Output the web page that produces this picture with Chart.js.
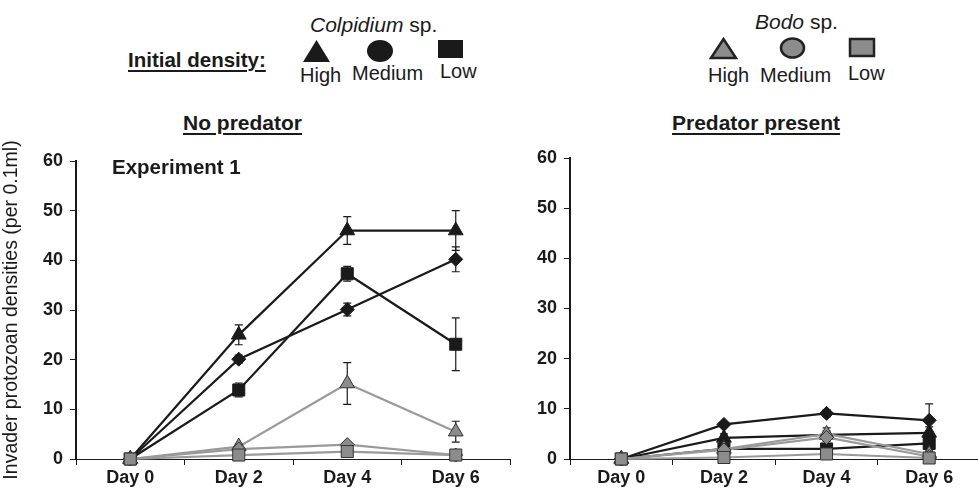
<!DOCTYPE html>
<html>
<head>
<meta charset="utf-8">
<script src="https://cdn.jsdelivr.net/npm/chart.js@4"></script>
<style>
  body { margin: 0; width: 978px; height: 490px; overflow: hidden; background: #fff; position: relative;
         font-family: "Liberation Sans", Arial, sans-serif; color: #1a1a1a; }
  .t { position: absolute; white-space: nowrap; line-height: 1; }
  .b { font-weight: bold; }
  .u { text-decoration: underline; text-decoration-thickness: 2px; text-underline-offset: 3px; }
  #left { position: absolute; left: 0; top: 130px; }
  #right { position: absolute; left: 500px; top: 130px; }
  svg { position: absolute; left: 0; top: 0; }
</style>
</head>
<body>
<svg width="978" height="100">
  <polygon points="303,62 316.5,40 330,62" fill="#1a1a1a"/>
  <ellipse cx="380" cy="51" rx="13" ry="11" fill="#1a1a1a"/>
  <rect x="438" y="40" width="25" height="18" fill="#1a1a1a"/>
  <polygon points="711,58 723.5,39 736,58" fill="#8c8c8c" stroke="#222" stroke-width="2.5"/>
  <ellipse cx="792.5" cy="48" rx="11.5" ry="9.5" fill="#8c8c8c" stroke="#222" stroke-width="2.5"/>
  <rect x="850" y="39" width="24" height="17" fill="#8c8c8c" stroke="#222" stroke-width="2.5"/>
</svg>
<div class="t" style="left:310px;top:14px;font-size:21px"><i>Colpidium</i> sp.</div>
<div class="t b u" style="left:128px;top:50px;font-size:20.5px">Initial density:</div>
<div class="t" style="left:300px;top:65px;font-size:20px">High</div>
<div class="t" style="left:352px;top:63px;font-size:20px">Medium</div>
<div class="t" style="left:440px;top:61px;font-size:20px">Low</div>
<div class="t" style="left:755px;top:11px;font-size:21px"><i>Bodo</i> sp.</div>
<div class="t" style="left:708px;top:65px;font-size:20px">High</div>
<div class="t" style="left:760px;top:65px;font-size:20px">Medium</div>
<div class="t" style="left:848px;top:63px;font-size:20px">Low</div>
<div class="t b u" style="left:183px;top:112px;font-size:21px">No predator</div>
<div class="t b u" style="left:672px;top:112px;font-size:21px">Predator present</div>

<canvas id="left" width="520" height="360"></canvas>
<canvas id="right" width="490" height="360"></canvas>
<div class="t b" style="left:112px;top:157px;font-size:20.5px">Experiment 1</div>

<script>
const days = ['Day 0', 'Day 2', 'Day 4', 'Day 6'];

// No predator
const npColHigh = [0, 25, 46, 46];
const npColHighErr = [0.5, 2, 2.8, 4];
const npColMed = [0, 20.1, 30.1, 40.2];
const npColMedErr = [0, 0.8, 1.3, 2.5];
const npColLow = [0, 13.9, 37.3, 23.1];
const npColLowErr = [0, 1.4, 1.5, 5.3];
const npBodHigh = [0, 2.5, 15.2, 5.5];
const npBodHighErr = [0, 0.5, 4.2, 2.1];
const npBodMed = [0, 2.0, 2.9, 0.8];
const npBodMedErr = [0, 0.4, 0.5, 0.3];
const npBodLow = [0, 0.8, 1.5, 0.8];
const npBodLowErr = [0.6, 0.3, 0.4, 0.3];

// Predator present
const ppColHigh = [0, 4.2, 4.8, 5.2];
const ppColHighErr = [0.5, 0.8, 0.8, 1.2];
const ppColMed = [0, 6.9, 9.1, 7.7];
const ppColMedErr = [0, 0.5, 0.7, 3.3];
const ppColLow = [0, 2.0, 2.0, 3.1];
const ppColLowErr = [0, 0.5, 0.5, 0.8];
const ppBodHigh = [0, 2.0, 5.0, 1.0];
const ppBodHighErr = [0, 0.4, 1.2, 0.6];
const ppBodMed = [0, 1.8, 4.3, 0.5];
const ppBodMedErr = [0, 0.3, 0.8, 0.3];
const ppBodLow = [0, 0.3, 1.0, 0.2];
const ppBodLowErr = [0.4, 0.2, 0.3, 0.2];

const black = '#1a1a1a';
const grayLine = '#9a9a9a';
const grayFill = '#8c8c8c';

// draws vertical error bars with caps behind the markers
const errorBars = {
  id: 'errorBars',
  beforeDatasetsDraw(chart) {
    const ctx = chart.ctx;
    const y = chart.scales.y;
    ctx.save();
    ctx.strokeStyle = black;
    ctx.lineWidth = 1.2;
    chart.data.datasets.forEach((ds, i) => {
      const meta = chart.getDatasetMeta(i);
      meta.data.forEach((pt, j) => {
        const e = ds.errors[j];
        if (!e) return;
        const top = y.getPixelForValue(ds.data[j] + e);
        const bot = y.getPixelForValue(ds.data[j] - e);
        ctx.beginPath();
        ctx.moveTo(pt.x, top); ctx.lineTo(pt.x, bot);
        ctx.moveTo(pt.x - 4, top); ctx.lineTo(pt.x + 4, top);
        ctx.moveTo(pt.x - 4, bot); ctx.lineTo(pt.x + 4, bot);
        ctx.stroke();
      });
    });
    ctx.restore();
  }
};

function series(data, errors, dark, style, r) {
  return {
    data: data,
    errors: errors,
    borderColor: dark ? black : grayLine,
    borderWidth: 2.2,
    pointStyle: style,
    pointRadius: r,
    pointBackgroundColor: dark ? black : grayFill,
    pointBorderColor: dark ? black : '#333',
    pointBorderWidth: 1,
    tension: 0,
    clip: false
  };
}

function makeChart(id, sets, yWidth, yTitle, pad) {
  const tickFont = { family: 'Liberation Sans', size: 18, weight: 'bold' };
  return new Chart(document.getElementById(id), {
    type: 'line',
    data: { labels: days, datasets: sets },
    options: {
      responsive: false,
      animation: false,
      layout: { padding: pad },
      plugins: { legend: { display: false }, tooltip: { enabled: false } },
      scales: {
        x: {
          offset: true,
          grid: { offset: true, drawOnChartArea: false, tickLength: 6, color: black, lineWidth: 1 },
          border: { color: black, width: 1 },
          ticks: { color: black, font: tickFont, padding: 2, maxRotation: 0 },
          afterFit: s => { s.height = 31; }
        },
        y: {
          min: 0, max: 60,
          grid: { drawOnChartArea: false, tickLength: 6, color: black, lineWidth: 1 },
          border: { color: black, width: 2 },
          ticks: { stepSize: 10, color: black, font: tickFont, padding: 7 },
          title: {
            display: !!yTitle, text: yTitle, color: black,
            font: { family: 'Liberation Sans', size: 19.5 },
            padding: { top: 0, bottom: 0 }
          },
          afterFit: s => { s.width = yWidth; }
        }
      }
    },
    plugins: [errorBars]
  });
}

makeChart('left', [
  series(npBodLow, npBodLowErr, false, 'rect', 8.5),
  series(npBodMed, npBodMedErr, false, 'rectRot', 7),
  series(npBodHigh, npBodHighErr, false, 'triangle', 8.5),
  series(npColLow, npColLowErr, true, 'rect', 8.5),
  series(npColMed, npColMedErr, true, 'rectRot', 7),
  series(npColHigh, npColHighErr, true, 'triangle', 8.5)
], 76, 'Invader protozoan densities (per 0.1ml)', { top: 31, right: 10, left: 0, bottom: 0 });

makeChart('right', [
  series(ppBodLow, ppBodLowErr, false, 'rect', 8.5),
  series(ppBodMed, ppBodMedErr, false, 'rectRot', 7),
  series(ppBodHigh, ppBodHighErr, false, 'triangle', 8.5),
  series(ppColLow, ppColLowErr, true, 'rect', 8.5),
  series(ppColMed, ppColMedErr, true, 'rectRot', 7),
  series(ppColHigh, ppColHighErr, true, 'triangle', 8.5)
], 70, '', { top: 28, right: 6, left: 0, bottom: 0 });
</script>
</body>
</html>
